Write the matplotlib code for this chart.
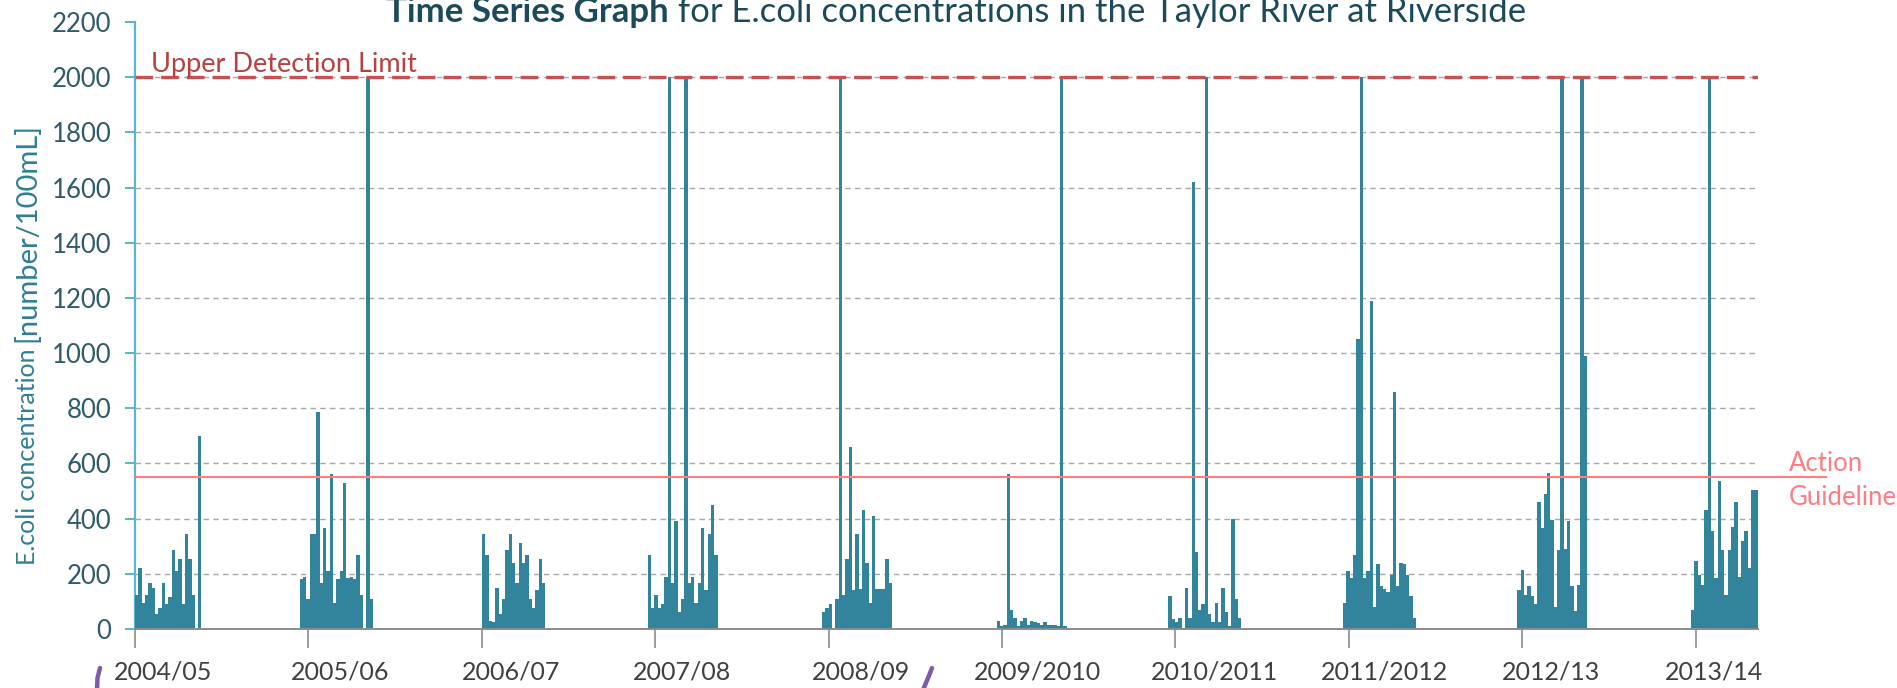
import matplotlib
matplotlib.use('Agg')
import matplotlib.pyplot as plt
from matplotlib.lines import Line2D
import numpy as np
import pandas as pd

plt.rcParams['font.family'] = ['Lato', 'DejaVu Sans']

# ---------------- data ----------------
seasons = ['2004/05', '2005/06', '2006/07', '2007/08', '2008/09',
           '2009/2010', '2010/2011', '2011/2012', '2012/13', '2013/14']
season_ticks = ['2004-11-01', '2005-11-01', '2006-11-01', '2007-11-01', '2008-11-01',
                '2009-11-01', '2010-11-01', '2011-11-01', '2012-11-01', '2013-11-01']
# first weekly sample date of each bathing season
sample_start = ['2004-11-01', '2005-10-14', '2006-11-02', '2007-10-17', '2008-10-18',
                '2009-10-21', '2010-10-17', '2011-10-20', '2012-10-21', '2013-10-22']

ecoli_2004_05 = [125, 220, 95, 125, 165, 150, 55, 75, 165, 90, 115, 285, 210, 255, 90, 345, 255, 125, 0, 700]
ecoli_2005_06 = [180, 190, 110, 345, 345, 785, 165, 365, 210, 560, 95, 180, 210, 530, 185, 190, 180, 270, 125, 0, 2000, 110]
ecoli_2006_07 = [345, 270, 30, 25, 150, 55, 110, 285, 345, 240, 165, 310, 240, 270, 110, 75, 140, 255, 165]
ecoli_2007_08 = [270, 75, 125, 75, 90, 190, 2000, 165, 390, 60, 110, 2000, 165, 190, 95, 165, 365, 140, 345, 450, 270]
ecoli_2008_09 = [60, 75, 90, 5, 110, 2000, 125, 255, 660, 140, 345, 145, 430, 240, 95, 410, 145, 145, 145, 255, 165]
ecoli_2009_10 = [30, 12, 15, 560, 70, 40, 10, 30, 40, 15, 30, 25, 20, 15, 25, 15, 15, 15, 12, 2000, 12]
ecoli_2010_11 = [120, 35, 25, 40, 5, 150, 40, 1620, 280, 70, 90, 2000, 55, 25, 95, 25, 150, 60, 10, 400, 110, 40]
ecoli_2011_12 = [95, 210, 185, 270, 1050, 2000, 185, 210, 1190, 80, 235, 155, 145, 135, 195, 860, 155, 240, 235, 195, 120, 40]
ecoli_2012_13 = [140, 215, 125, 155, 120, 90, 460, 365, 490, 565, 395, 80, 285, 2000, 290, 390, 155, 65, 160, 2000, 990]
ecoli_2013_14 = [70, 245, 195, 160, 430, 2000, 355, 185, 535, 285, 125, 285, 370, 460, 190, 320, 355, 220, 505, 505]

season_values = [ecoli_2004_05, ecoli_2005_06, ecoli_2006_07, ecoli_2007_08, ecoli_2008_09,
                 ecoli_2009_10, ecoli_2010_11, ecoli_2011_12, ecoli_2012_13, ecoli_2013_14]

upper_detection_limit = 2000
action_guideline = 550
y_ticks = list(range(0, 2201, 200))

# ---------------- styling / layout ----------------
W, H = 1897, 688
bar_color = '#31849B'
title_color = '#1B4A5A'
label_offset_days = [59, 67, 63, 57, 67, 74, 82, 76, 61, 38]
x_start, x_end = pd.Timestamp('2004-11-01'), pd.Timestamp('2014-03-12')

fig = plt.figure(figsize=(W / 100, H / 100), dpi=100)
ax_l, ax_r, ax_t, ax_b = 135, 1758, 22, 629
ax = fig.add_axes([ax_l / W, (H - ax_b) / H, (ax_r - ax_l) / W, (ax_b - ax_t) / H])

for start, vals in zip(sample_start, season_values):
    dates = pd.date_range(start, periods=len(vals), freq='7D')
    ax.bar(dates, vals, width=7, align='edge', color=bar_color, linewidth=0, zorder=3)

ax.set_xlim(x_start, x_end)
ax.set_ylim(0, 2200)
ax.set_yticks(y_ticks)
ax.set_yticklabels([str(v) for v in y_ticks])
tick_dates = pd.to_datetime(season_ticks)
ax.set_xticks(tick_dates)
ax.set_xticklabels([])

ax.set_axisbelow(True)
ax.yaxis.grid(True, color='#A8A8A8', linestyle=(0, (4, 3)), linewidth=1.0)
ax.get_ygridlines()[-1].set_visible(False)
ax.get_ygridlines()[0].set_visible(False)

for s in ['top', 'right']:
    ax.spines[s].set_visible(False)
ax.spines['left'].set_color('#5BB4D0')
ax.spines['left'].set_linewidth(1.6)
ax.spines['bottom'].set_color('#8C8C8C')
ax.spines['bottom'].set_linewidth(1.4)
ax.spines['bottom'].set_zorder(4)

ax.tick_params(axis='y', colors='#5BB4D0', length=7, width=1.4, pad=10,
               labelsize=18.5, labelcolor='#2F5B6B')
ax.tick_params(axis='x', colors='#8C8C8C', length=14, width=1.2)

# x labels (offset from tick, as in the original)
for d, lab, off in zip(tick_dates, seasons, label_offset_days):
    ax.text(d + pd.Timedelta(days=off), -0.0708, lab, transform=ax.get_xaxis_transform(),
            ha='center', va='center', fontsize=18, color='#404040', clip_on=False)

# Upper detection limit
ax.axhline(upper_detection_limit, color='#C9504F', linewidth=2.4,
           linestyle=(0, (5.3, 2.4)), zorder=5)
ax.text(0.0099, upper_detection_limit + 18, 'Upper Detection Limit', transform=ax.get_yaxis_transform(),
        ha='left', va='baseline', fontsize=19.5, color='#B8403E', zorder=6)

# Action guideline
ax.plot([0, (1826 - ax_l) / (ax_r - ax_l)], [action_guideline, action_guideline],
        transform=ax.get_yaxis_transform(), clip_on=False, color='#FF7C80', linewidth=1.5, zorder=5)
gx = (1789 - ax_l) / (ax_r - ax_l)
ax.text(gx, 601, 'Action', transform=ax.get_yaxis_transform(), ha='left', va='center',
        fontsize=18.5, color='#FF7C80', clip_on=False)
ax.text(gx, 475, 'Guideline', transform=ax.get_yaxis_transform(), ha='left', va='center',
        fontsize=18.5, color='#FF7C80', clip_on=False)

renderer = fig.canvas.get_renderer()

# Title (bold part + regular part, centred together)
ty = (H - 22) / H
t1 = fig.text(0, ty, 'Time Series Graph', fontsize=25, fontweight='bold', color=title_color, va='baseline')
t2 = fig.text(0, ty, ' for E.coli concentrations in the Taylor River at Riverside', fontsize=25,
              color=title_color, va='baseline')
w1 = t1.get_window_extent(renderer).width
w2 = t2.get_window_extent(renderer).width
x0 = 956 - (w1 + w2) / 2
t1.set_x(x0 / W)
t2.set_x((x0 + w1) / W)

# Y-axis label: main part + unit part
yl_color = '#2E7F95'
xb = 35 / W
yb = (H - 565) / H
l1 = fig.text(xb, yb, 'E.coli concentration ', rotation=90, rotation_mode='anchor',
              ha='left', va='baseline', fontsize=18, color=yl_color)
h1 = l1.get_window_extent(renderer).height
l2 = fig.text(xb, yb + h1 / H, '[number/100mL]', rotation=90, rotation_mode='anchor',
              ha='left', va='baseline', fontsize=21, color=yl_color)

# purple annotation strokes at bottom edge
purple = '#7E5BA6'
fig.add_artist(Line2D(np.array([100, 97.5, 97]) / W, (H - np.array([668, 678, 690])) / H,
                      color=purple, linewidth=3.2, solid_capstyle='round'))
fig.add_artist(Line2D(np.array([932, 928, 923]) / W, (H - np.array([668, 678, 690])) / H,
                      color=purple, linewidth=3.2, solid_capstyle='round'))

fig.savefig('out.png', dpi=100)
